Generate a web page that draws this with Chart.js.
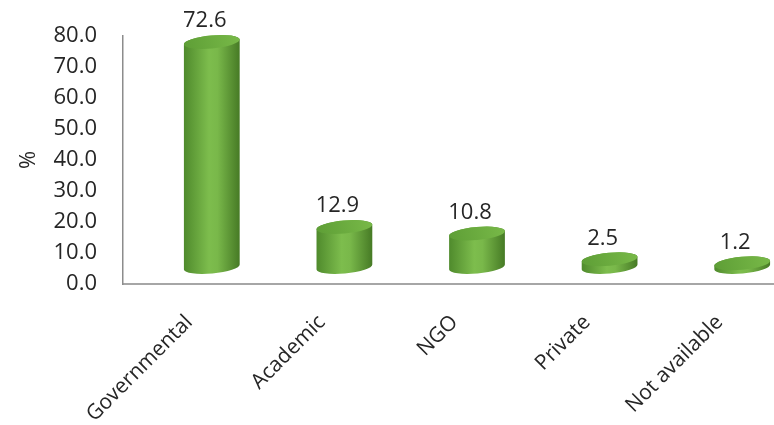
<!DOCTYPE html>
<html>
<head>
<meta charset="utf-8">
<script src="https://cdn.jsdelivr.net/npm/chart.js@4"></script>
<style>
  html, body { margin: 0; padding: 0; background: #fff; overflow: hidden; }
  #wrap { width: 774px; height: 425px; overflow: hidden; }
</style>
</head>
<body>
<div id="wrap"><canvas id="chart" width="786" height="425"></canvas></div>
<script>
const categories = ['Governmental', 'Academic', 'NGO', 'Private', 'Not available'];
const percentages = [72.6, 12.9, 10.8, 2.5, 1.2];
const yTicks = [0, 10, 20, 30, 40, 50, 60, 70, 80];

const FONT = "'Open Sans', sans-serif";
const DX = 22.5, DY = -17;   // fake 3d depth shift of the cylinders

const cylinders = {
    id: 'cylinders',
    afterDatasetsDraw(chart) {
        const ctx = chart.ctx;
        const xs = chart.scales.x, ys = chart.scales.y;
        const rx = 28, ry = 6.5, rot = -0.09;
        const ex = rx * Math.cos(rot), ey = rx * Math.sin(rot);
        chart.data.datasets[0].data.forEach((v, i) => {
            const cx = xs.getPixelForValue(i) + DX;
            const by = ys.getPixelForValue(0) + DY;
            const ty = ys.getPixelForValue(v) + DY;
            ctx.save();
            const g = ctx.createLinearGradient(cx - rx, 0, cx + rx, 0);
            g.addColorStop(0, '#4f8a2c');
            g.addColorStop(0.45, '#7dbd4d');
            g.addColorStop(0.6, '#79b84a');
            g.addColorStop(1, '#467a25');
            ctx.beginPath();
            ctx.moveTo(cx - ex, ty - ey);
            ctx.lineTo(cx - ex, by - ey);
            ctx.ellipse(cx, by, rx, ry, rot, Math.PI, 0, true);
            ctx.lineTo(cx + ex, ty + ey);
            ctx.ellipse(cx, ty, rx, ry, rot, 0, Math.PI, true);
            ctx.closePath();
            ctx.fillStyle = g;
            ctx.fill();
            const t = ctx.createLinearGradient(cx - rx, ty + ry, cx + rx, ty - ry);
            t.addColorStop(0, '#5e9e36');
            t.addColorStop(1, '#78b948');
            ctx.beginPath();
            ctx.ellipse(cx, ty, rx, ry, rot, 0, Math.PI * 2);
            ctx.fillStyle = t;
            ctx.fill();
            ctx.fillStyle = '#262626';
            ctx.font = '22px ' + FONT;
            ctx.textAlign = 'center';
            ctx.textBaseline = 'middle';
            ctx.fillText(v.toFixed(1), cx - 7, ty - 21);
            ctx.restore();
        });
    }
};

new Chart(document.getElementById('chart'), {
    type: 'bar',
    data: {
        labels: categories,
        datasets: [{
            data: percentages,
            backgroundColor: 'rgba(0,0,0,0)',
            borderWidth: 0
        }]
    },
    options: {
        responsive: false,
        animation: false,
        layout: { padding: { top: 36, right: 0, left: 0, bottom: 0 } },
        plugins: { legend: { display: false }, tooltip: { enabled: false } },
        scales: {
            x: {
                grid: { display: false },
                border: { display: true, color: '#a6a6a6', width: 2 },
                ticks: {
                    color: '#262626',
                    font: { family: FONT, size: 21 },
                    minRotation: 45,
                    maxRotation: 45,
                    padding: 18
                },
                afterFit: scale => { scale.height = 141; }
            },
            y: {
                min: 0,
                max: 80,
                afterBuildTicks: scale => { scale.ticks = yTicks.map(v => ({ value: v })); },
                grid: { display: false },
                border: { display: true, color: '#8c8c8c', width: 1.5 },
                ticks: {
                    color: '#262626',
                    font: { family: FONT, size: 22 },
                    padding: 18,
                    callback: v => v.toFixed(1)
                },
                title: {
                    display: true,
                    text: '%',
                    color: '#262626',
                    font: { family: FONT, size: 22 },
                    padding: { top: 16 }
                },
                afterFit: scale => { scale.width = 123; }
            }
        }
    },
    plugins: [cylinders]
});
</script>
</body>
</html>
